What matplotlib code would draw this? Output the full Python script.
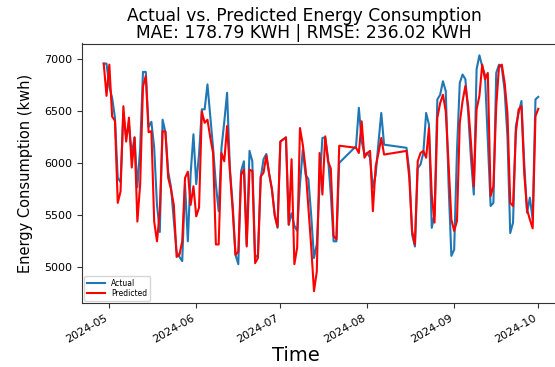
import matplotlib
matplotlib.use("Agg")
import matplotlib.pyplot as plt
import matplotlib.dates as mdates
import numpy as np
import pandas as pd

# contiguous date ranges (gaps in the record between them)
date_segments = [("2024-04-29", "2024-07-22"),
                 ("2024-07-28", "2024-08-07"),
                 ("2024-08-15", "2024-10-01")]

actual = [
    6960, 6960, 6740, 6630, 6440, 5860, 5820, 6470, 6250, 6370,
    6090, 6250, 5770, 6150, 6880, 6880, 6350, 6400, 6150, 5600,
    5340, 6420, 6300, 5920, 5770, 5450, 5150, 5100, 5060, 5800,
    5250, 5900, 6280, 5800, 6090, 6520, 6520, 6760, 6450, 6150,
    5800, 5540, 6150, 6400, 6680, 5950, 5600, 5120, 5030, 5925,
    6020, 5220, 6120, 6020, 5090, 5120, 5860, 6040, 6090, 5900,
    5750, 5500, 5380, 6210, 6230, 6250, 5410, 5520, 5400, 5350,
    5800, 6130, 5890, 5850, 5500, 5090, 5220, 5800, 6245, 6250,
    6055, 5700, 5250, 5250, 6005,
    6165, 6535, 6215, 6085, 6100, 6055, 5765, 5890, 6200, 6485, 6180,
    6150, 5925, 5315, 5200, 5955, 5990, 6100, 6485, 6375, 5380,
    5510, 6615, 6660, 6790, 6695, 5800, 5110, 5170, 6120, 6775,
    6855, 6810, 6485, 6040, 5700, 6905, 7040, 6935, 6850, 6230,
    5590, 5620, 6870, 6950, 6920, 6700, 6260, 5330, 5430, 6360,
    6485, 6600, 6000, 5525, 5670, 5460, 6615, 6640,
]

predicted = [
    6960, 6650, 6950, 6450, 6410, 5620, 5730, 6550, 6210, 6440,
    5960, 6250, 5440, 5800, 6740, 6840, 6300, 6310, 5440, 5250,
    5540, 6310, 6305, 5860, 5750, 5600, 5100, 5120, 5250, 5860,
    5920, 5600, 5780, 5490, 5575, 6500, 6390, 6420, 6250, 6100,
    5220, 5220, 6100, 6020, 6360, 5925, 5550, 5120, 5150, 5890,
    5940, 5200, 5940, 5925, 5040, 5090, 5875, 5910, 6075, 5900,
    5750, 5500, 5390, 6210, 6230, 6250, 5410, 6040, 5030, 5190,
    6340, 6180, 5950, 5575, 5200, 4770, 4960, 6100, 5700, 6260,
    6020, 5950, 5300, 5270, 6170,
    6150, 6100, 6405, 6055, 6100, 6120, 5540, 5970, 6100, 6245, 6085,
    6120, 5860, 5350, 5220, 6020, 6100, 6120, 6055, 6340, 5700,
    5430, 6440, 6580, 6660, 6500, 6000, 5460, 5350, 5445, 6390,
    6600, 6745, 6550, 6200, 5780, 6520, 6650, 6950, 6810, 6870,
    5685, 5780, 6550, 6935, 6950, 6775, 6485, 5620, 5590, 6295,
    6520, 6550, 5900, 5555, 5460, 5375, 6455, 6525,
]

title_lines = ["Actual vs. Predicted Energy Consumption",
               "MAE: 178.79 KWH | RMSE: 236.02 KWH"]

dates = pd.DatetimeIndex(np.concatenate(
    [pd.date_range(a, b, freq="D").values for a, b in date_segments]))

W, H = 555, 367
fig = plt.figure(figsize=(W / 100, H / 100), dpi=100)
ax_left, ax_right, ax_top, ax_bottom = 82, 560, 43.5, 303
ax = fig.add_axes([ax_left / W, (H - ax_bottom) / H,
                   (ax_right - ax_left) / W, (ax_bottom - ax_top) / H])

ax.plot(dates, actual, color="#1f77b4", lw=1.5, label="Actual")
ax.plot(dates, predicted, color="red", lw=1.5, label="Predicted")

ax.xaxis.set_major_locator(mdates.MonthLocator())
ax.xaxis.set_major_formatter(mdates.DateFormatter("%Y-%m"))
for lbl in ax.get_xticklabels():
    lbl.set_rotation(30)
    lbl.set_ha("right")
ax.tick_params(labelsize=8, color="#333333")
for s in ax.spines.values():
    s.set_color("#333333")

axw = ax_right - ax_left
ax.set_ylabel("Energy Consumption (kwh)", fontsize=10.5)
ax.yaxis.set_label_coords((33 - ax_left) / axw, 0.5)
ax.set_xlabel("Time", fontsize=14)
ax.xaxis.set_label_coords((296 - ax_left) / axw, -0.165)
ax.set_title("\n".join(title_lines), fontsize=12.3,
             x=(304 - ax_left) / axw, linespacing=0.95, pad=4)

ax.legend(loc="lower left", fontsize=5.5, handlelength=2.4,
          labelspacing=0.15, borderpad=0.35, borderaxespad=0.3)

fig.savefig("out.png", dpi=100)
